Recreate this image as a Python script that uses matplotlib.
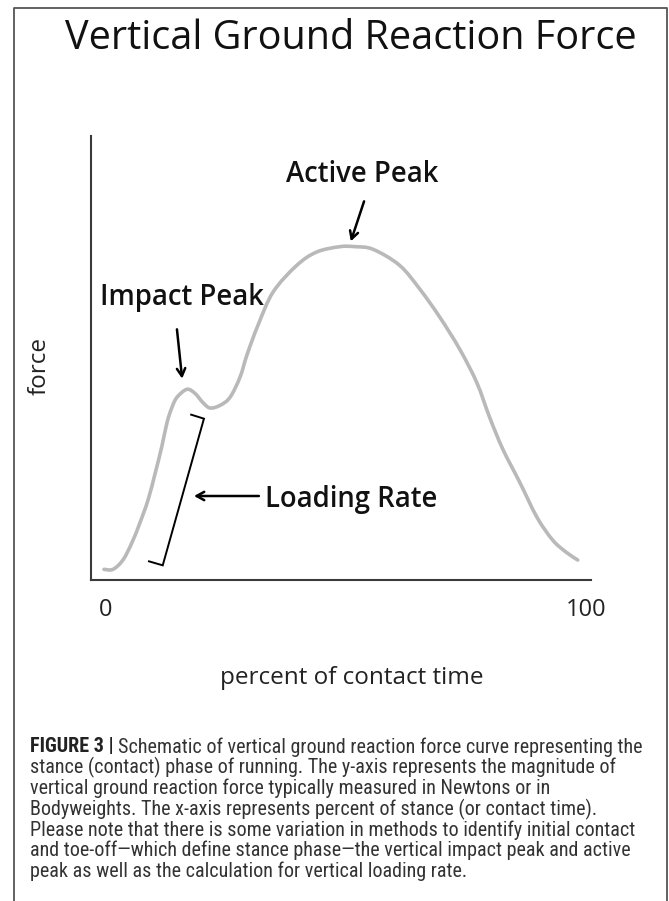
import matplotlib
matplotlib.use("Agg")
import matplotlib.pyplot as plt
from matplotlib.lines import Line2D
from matplotlib.patches import PathPatch
from matplotlib.path import Path
from matplotlib.transforms import ScaledTranslation
from matplotlib import font_manager as fm

# ---------------- data ----------------
pct_contact = [0.0, 1.9, 4.0, 5.9, 7.6, 9.3, 10.8, 12.2, 13.3, 14.3, 15.4, 17.5,
               19.2, 20.9, 22.4, 24.5, 26.6, 28.7, 30.2, 32.5, 35.7, 40.7, 44.9,
               49.8, 53.0, 56.8, 62.4, 66.7, 70.9, 75.1, 78.7, 81.4, 84.2, 87.8,
               91.4, 94.7, 97.5, 100.0]
force_bw = [0.08, 0.08, 0.15, 0.28, 0.43, 0.60, 0.80, 1.00, 1.18, 1.29, 1.37, 1.43,
            1.40, 1.33, 1.29, 1.31, 1.37, 1.52, 1.69, 1.91, 2.16, 2.36, 2.46,
            2.50, 2.50, 2.48, 2.36, 2.18, 1.97, 1.73, 1.48, 1.22, 0.98, 0.73,
            0.47, 0.30, 0.21, 0.15]
x_ticks = [0, 100]
x_tick_labels = ["0", "100"]

title = "Vertical Ground Reaction Force"
x_label = "percent of contact time"
y_label = "force"
caption_bold = "FIGURE 3 | "
caption_lines = [
    "Schematic of vertical ground reaction force curve representing the",
    "stance (contact) phase of running. The y-axis represents the magnitude of",
    "vertical ground reaction force typically measured in Newtons or in",
    "Bodyweights. The x-axis represents percent of stance (or contact time).",
    "Please note that there is some variation in methods to identify initial contact",
    "and toe-off\u2014which define stance phase\u2014the vertical impact peak and active",
    "peak as well as the calculation for vertical loading rate.",
]

# ---------------- fonts ----------------
def pick_caption_font():
    entries = fm.fontManager.ttflist
    names = {e.name for e in entries}
    for fam in ["Liberation Sans Narrow", "Roboto Condensed", "Open Sans Condensed",
                "Noto Sans Condensed", "DejaVu Sans Condensed"]:
        if fam in names:
            return dict(fontfamily=fam)
    for e in entries:
        if e.name in ("Noto Sans", "Roboto", "Open Sans", "DejaVu Sans") and \
                str(e.stretch) in ("condensed", "semi-condensed", "extra-condensed"):
            return dict(fontfamily=e.name, fontstretch=str(e.stretch))
    return dict(fontfamily="Roboto")

cap_font = pick_caption_font()
main_font = "Open Sans"

# ---------------- figure ----------------
W, H = 669, 901
fig = plt.figure(figsize=(W / 100, H / 100), dpi=100)
fig.patch.set_facecolor("white")

def fx(px):
    return px / W

def fy(py):
    return 1 - py / H

frame = Line2D([fx(14), fx(14), fx(667), fx(667)], [0, fy(7.5), fy(7.5), 0],
               transform=fig.transFigure, color="#555555", lw=1.3)
fig.add_artist(frame)

ax = fig.add_axes([fx(91), fy(580), fx(591) - fx(91), fy(136) - fy(580)])
ax.set_xlim(-2.74, 102.8)
ax.set_ylim(0, 3.33)

# smooth curve through the read points (Catmull-Rom drawn as cubic Bezier segments)
pts = list(zip(pct_contact, force_bw))
verts = [pts[0]]
codes = [Path.MOVETO]
for i in range(len(pts) - 1):
    p0 = pts[i - 1] if i > 0 else pts[i]
    p1 = pts[i]
    p2 = pts[i + 1]
    p3 = pts[i + 2] if i + 2 < len(pts) else pts[i + 1]
    c1 = (p1[0] + (p2[0] - p0[0]) / 6, p1[1] + (p2[1] - p0[1]) / 6)
    c2 = (p2[0] - (p3[0] - p1[0]) / 6, p2[1] - (p3[1] - p1[1]) / 6)
    verts += [c1, c2, p2]
    codes += [Path.CURVE4] * 3
ax.add_patch(PathPatch(Path(verts, codes), facecolor="none", edgecolor="#b9b9b9",
                       lw=2.6, capstyle="round", joinstyle="round"))

for s in ("top", "right"):
    ax.spines[s].set_visible(False)
for s in ("left", "bottom"):
    ax.spines[s].set_color("#3a3a3a")
    ax.spines[s].set_linewidth(1.5)
ax.set_yticks([])
ax.set_xticks(x_ticks)
ax.set_xticklabels(x_tick_labels, fontfamily=main_font, fontsize=17, color="#222222")
ax.tick_params(axis="x", length=0, pad=13)
shifts = [2, 8]
for lab, sh in zip(ax.get_xticklabels(), shifts):
    lab.set_transform(lab.get_transform() + ScaledTranslation(sh / 100, 0, fig.dpi_scale_trans))

fig.text(fx(352), fy(678), x_label, ha="center", va="center", fontfamily=main_font,
         fontsize=17.5, color="#222222")
fig.text(fx(40), fy(366), y_label, ha="center", va="center", rotation=90,
         fontfamily=main_font, fontsize=17.5, color="#222222")
fig.text(fx(351), fy(39), title, ha="center", va="center", fontfamily=main_font,
         fontsize=28.5, color="#111111")

akw = dict(fontfamily=main_font, fontsize=19.8, fontweight="semibold", color="#111111")
ax.text(54.4, 3.04, "Active Peak", ha="center", va="center", **akw)
ax.text(16.4, 2.12, "Impact Peak", ha="center", va="center", **akw)
ax.text(34.0, 0.60, "Loading Rate", ha="left", va="center", **akw)

arrow = dict(arrowstyle="->,head_length=0.55,head_width=0.3", color="black", lw=1.8,
             shrinkA=0, shrinkB=0)
ax.annotate("", xy=(52.1, 2.54), xytext=(54.9, 2.84), arrowprops=arrow)
ax.annotate("", xy=(16.5, 1.51), xytext=(15.4, 1.88), arrowprops=arrow)
ax.annotate("", xy=(19.0, 0.63), xytext=(32.7, 0.63), arrowprops=arrow)
ax.plot([18.4, 21.1, 12.4, 9.5], [1.24, 1.21, 0.11, 0.14], color="black", lw=1.4,
        solid_joinstyle="miter")

# ---------------- caption, sized so that the first line spans the reference width ----
renderer = fig.canvas.get_renderer()
target_w = 610.0
size = 14.0
for _ in range(3):
    t1 = fig.text(0, 0, caption_bold, fontsize=size, fontweight="bold", **cap_font)
    t2 = fig.text(0, 0, caption_lines[0], fontsize=size, **cap_font)
    wtot = t1.get_window_extent(renderer).width + t2.get_window_extent(renderer).width
    t1.remove()
    t2.remove()
    size *= target_w / wtot

y0 = 747
dy = 20.7
tb = fig.text(fx(30), fy(y0), caption_bold, ha="left", va="center", fontsize=size,
              fontweight="bold", color="#222222", **cap_font)
bb = tb.get_window_extent(renderer)
fig.text(bb.x1 / W, fy(y0), caption_lines[0], ha="left", va="center",
         fontsize=size, color="#333333", **cap_font)
for i, line in enumerate(caption_lines[1:], start=1):
    fig.text(fx(30), fy(y0 + i * dy), line, ha="left", va="center",
             fontsize=size, color="#333333", **cap_font)

fig.savefig("out.png", dpi=100, facecolor="white")
